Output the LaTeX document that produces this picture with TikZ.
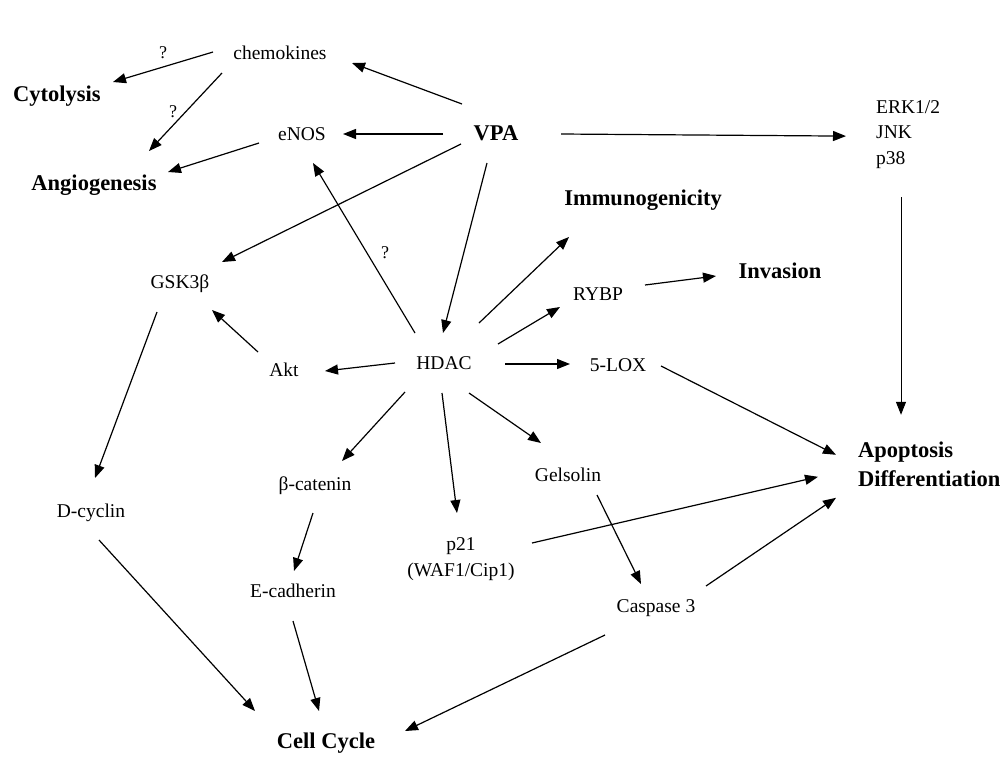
\documentclass[tikz,border=0pt]{standalone}
\usepackage{fontspec}
\setmainfont{Liberation Serif}
\usetikzlibrary{arrows.meta,calc}
\tikzset{
  lbl/.style={font=\fontsize{19.5}{25.5}\selectfont, inner sep=0pt, text height=13.6pt, text depth=0pt},
  blbl/.style={font=\fontsize{22.5}{29}\selectfont\bfseries, inner sep=0pt, text height=15.7pt, text depth=0pt},
  mlbl/.style={font=\fontsize{19.5}{25.5}\selectfont, inner sep=0pt},
  mblbl/.style={font=\fontsize{22.5}{29}\selectfont\bfseries, inner sep=0pt},
  arr/.style={line width=1.2pt, -{Triangle[length=13pt,width=10pt]}},
  qm/.style={font=\fontsize{18}{20}\selectfont, inner sep=0pt}
}
\begin{document}
\begin{tikzpicture}[x=1pt,y=-1pt]
\useasboundingbox[fill=white] (0,0) rectangle (1007,756);
% nodes
\node[lbl]  (chem)  at (280,53)  {chemokines};
\node[blbl] (cyto)  at (57,94)   {Cytolysis};
\node[blbl] (angio) at (94,183)  {Angiogenesis};
\node[lbl]  (enos)  at (302,134) {eNOS};
\node[blbl] (vpa)   at (496,133) {VPA};
\node[mlbl, align=left, anchor=west] (erk) at (876,134.6) {ERK1/2\\JNK\\p38};
\node[blbl] (immuno) at (643,198) {Immunogenicity};
\node[blbl] (inv)   at (780,271) {Invasion};
\node[lbl]  (gsk)   at (180,282) {GSK3β};
\node[lbl]  (rybp)  at (598,294) {RYBP};
\node[lbl]  (akt)   at (284,370) {Akt};
\node[lbl]  (hdac)  at (444,363) {HDAC};
\node[lbl]  (lox)   at (618,365) {5-LOX};
\node[mblbl, align=left, anchor=west] (apop) at (858,463.8) {Apoptosis\\Differentiation};
\node[lbl]  (dcyc)  at (91,511)  {D-cyclin};
\node[lbl]  (bcat)  at (315,484) {β-catenin};
\node[mlbl, align=center] (p21) at (461,559) {p21\\(WAF1/Cip1)};
\node[lbl]  (gel)   at (568,475) {Gelsolin};
\node[lbl]  (ecad)  at (293,591) {E-cadherin};
\node[lbl]  (casp)  at (656,606) {Caspase 3};
\node[blbl] (cell)  at (326,741) {Cell Cycle};
% connectors
\draw[arr] ($(chem)+(-67,-1)$) -- node[qm, pos=.5, yshift=14pt] {?} ($(cyto)+(56,-12)$);
\draw[arr] ($(chem)+(-58,20)$) -- node[qm, pos=.5, xshift=-12.5pt] {?} ($(angio)+(55,-32)$);
\draw[arr] ($(vpa)+(-34,-29)$) -- ($(chem)+(72,10)$);
\draw[arr] ($(vpa)+(-53,1)$) -- ($(enos)+(41,0)$);
\draw[arr] ($(enos)+(-43,9)$) -- ($(angio)+(74,-11)$);
\draw[arr] ($(vpa)+(-35,11)$) -- ($(gsk)+(42,-20)$);
\draw[arr] ($(hdac)+(-29,-30)$) -- node[qm, pos=.47, xshift=18pt] {?} ($(enos)+(11,29)$);
\draw[arr] ($(vpa)+(-9,30)$) -- ($(hdac)+(-1,-30)$);
\draw[arr] ($(vpa)+(65,1)$) -- ($(erk.west)+(-30,1.5)$);
\draw[arr] ($(hdac)+(35,-40)$) -- ($(immuno)+(-74,39)$);
\draw[arr] ($(hdac)+(54,-19)$) -- ($(rybp)+(-38,13)$);
\draw[arr] ($(rybp)+(47,-9)$) -- ($(inv)+(-64,5)$);
\draw[arr] ($(hdac)+(61,1)$) -- ($(lox)+(-48,-1)$);
\draw[arr] ($(hdac)+(-49,0)$) -- ($(akt)+(41,1)$);
\draw[arr] ($(akt)+(-26,-18)$) -- ($(gsk)+(32,28)$);
\draw[arr] ($(gsk)+(-23,30)$) -- ($(dcyc)+(4,-33)$);
\draw[arr] ($(hdac)+(-39,29)$) -- ($(bcat)+(27,-23)$);
\draw[arr] ($(hdac)+(-2,30)$) -- ($(p21)+(-4,-46)$);
\draw[arr] ($(hdac)+(25,30)$) -- ($(gel)+(-27,-32)$);
\draw[arr] ($(lox)+(43,1)$) -- ($(apop.west)+(-22,-9)$);
\draw[arr, line width=1pt] ($(erk.west)+(25,62.5)$) -- ($(apop.west)+(43,-49)$);
\draw[arr] ($(p21)+(71,-16)$) -- ($(apop.west)+(-40,13)$);
\draw[arr] ($(gel)+(29,20)$) -- ($(casp)+(-15,-22)$);
\draw[arr] ($(casp)+(50,-20)$) -- ($(apop.west)+(-22,34)$);
\draw[arr] ($(bcat)+(-2,29)$) -- ($(ecad)+(1,-20)$);
\draw[arr] ($(dcyc)+(8,29)$) -- ($(cell)+(-71,-30)$);
\draw[arr] ($(ecad)+(0,30)$) -- ($(cell)+(-7,-30)$);
\draw[arr] ($(casp)+(-51,29)$) -- ($(cell)+(79,-10)$);
\end{tikzpicture}
\end{document}
